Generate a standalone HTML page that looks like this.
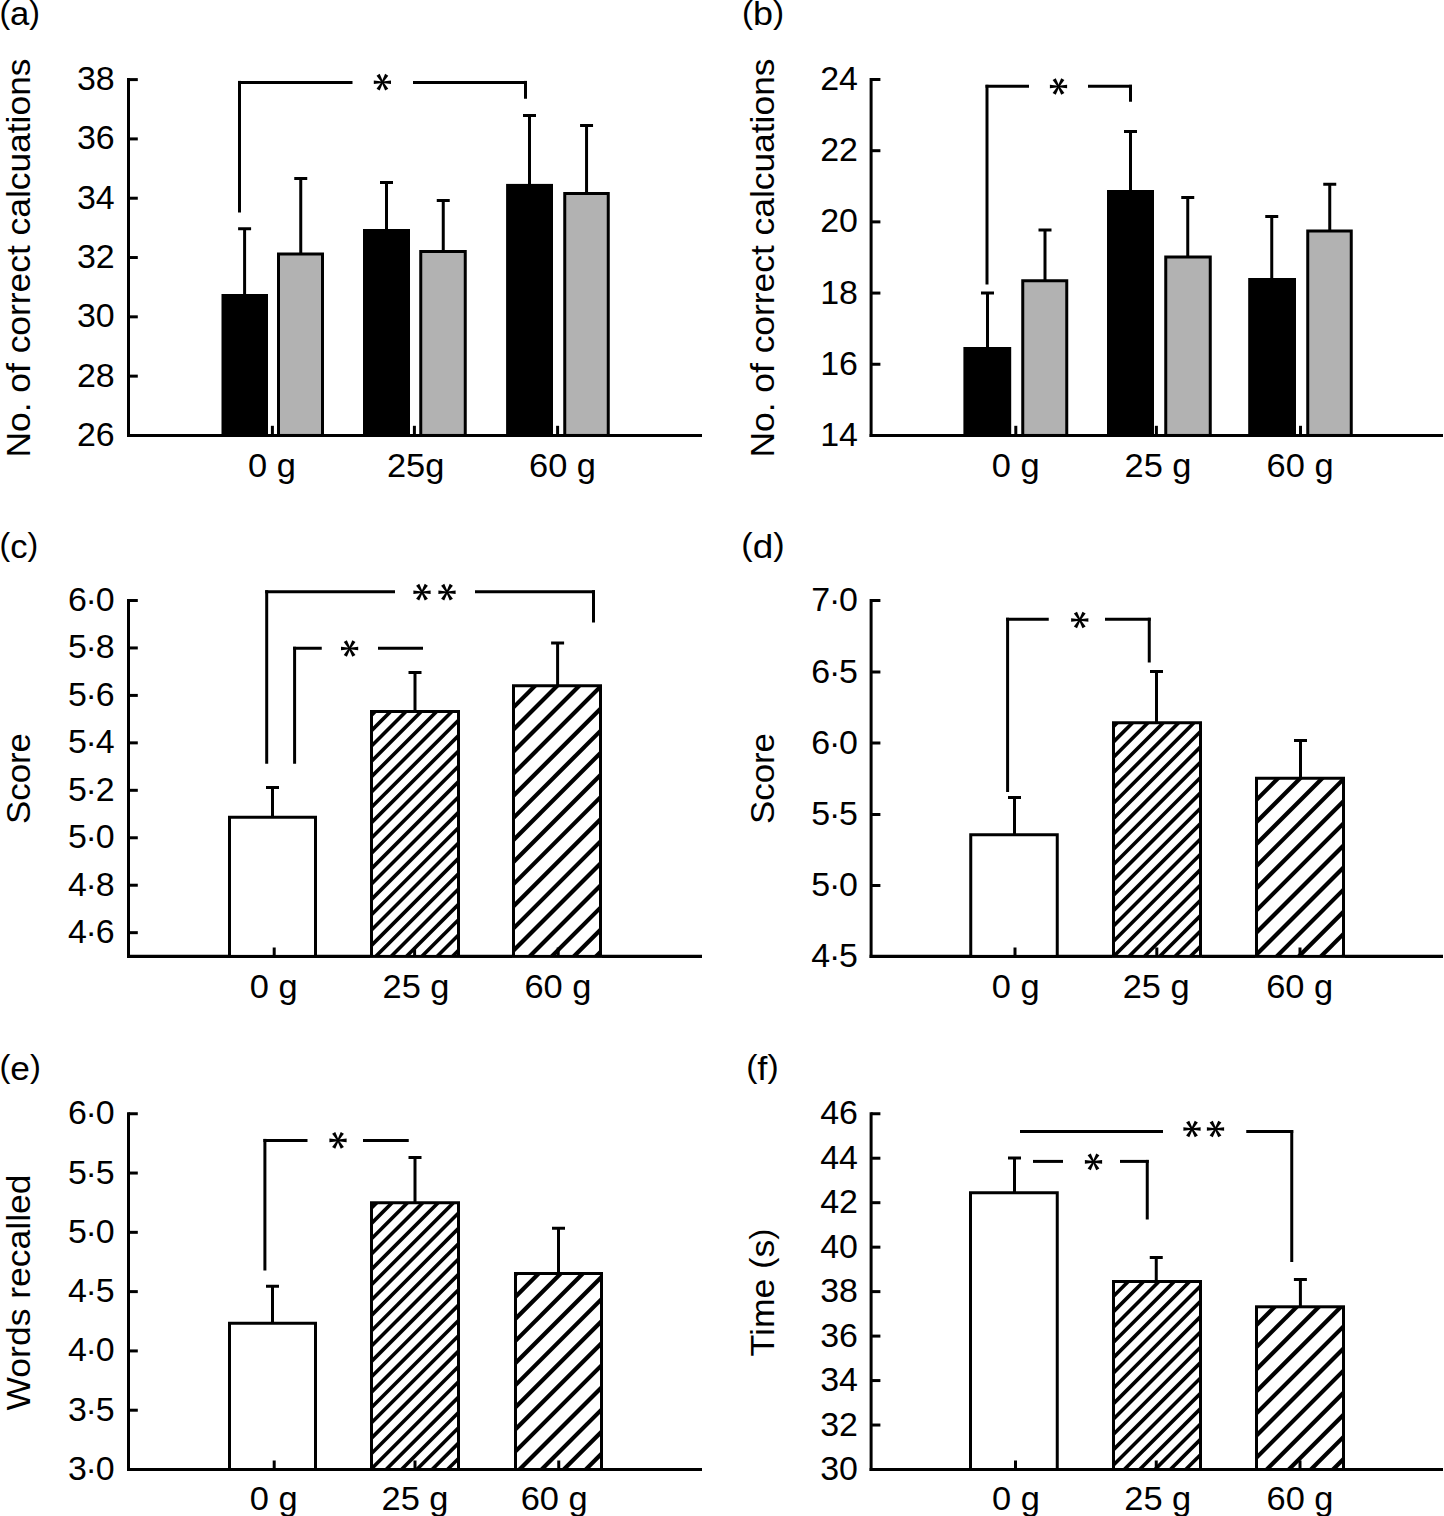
<!DOCTYPE html>
<html><head><meta charset="utf-8"><title>Figure</title>
<style>
html,body{margin:0;padding:0;background:#fff;}
body{width:1444px;height:1516px;overflow:hidden;font-family:"Liberation Sans",sans-serif;}
svg{display:block;}
</style></head><body>
<svg width="1444" height="1516" viewBox="0 0 1444 1516" font-family="'Liberation Sans', sans-serif" fill="#000">
<rect width="1444" height="1516" fill="#fff"/>
<text transform="translate(-0.60,25.20) scale(1.05,1)" font-size="33"><tspan dy="-2.2" font-size="30.5">(</tspan><tspan dy="2.2">a</tspan><tspan dy="-2.2" font-size="30.5">)</tspan></text>
<text transform="translate(30.30,258.00) rotate(-90)" font-size="34" text-anchor="middle" textLength="399" lengthAdjust="spacingAndGlyphs">No. of correct calcuations</text>
<line x1="128.50" y1="78.10" x2="128.50" y2="436.95" stroke="#000" stroke-width="3.0" stroke-linecap="butt"/>
<line x1="127.00" y1="435.45" x2="702.00" y2="435.45" stroke="#000" stroke-width="3.1" stroke-linecap="butt"/>
<line x1="128.50" y1="79.60" x2="137.80" y2="79.60" stroke="#000" stroke-width="3.0" stroke-linecap="butt"/>
<text transform="translate(114.60,90.10) scale(1.05,1)" font-size="32.3" text-anchor="end" >38</text>
<line x1="128.50" y1="138.91" x2="137.80" y2="138.91" stroke="#000" stroke-width="3.0" stroke-linecap="butt"/>
<text transform="translate(114.60,149.41) scale(1.05,1)" font-size="32.3" text-anchor="end" >36</text>
<line x1="128.50" y1="198.22" x2="137.80" y2="198.22" stroke="#000" stroke-width="3.0" stroke-linecap="butt"/>
<text transform="translate(114.60,208.72) scale(1.05,1)" font-size="32.3" text-anchor="end" >34</text>
<line x1="128.50" y1="257.53" x2="137.80" y2="257.53" stroke="#000" stroke-width="3.0" stroke-linecap="butt"/>
<text transform="translate(114.60,268.03) scale(1.05,1)" font-size="32.3" text-anchor="end" >32</text>
<line x1="128.50" y1="316.83" x2="137.80" y2="316.83" stroke="#000" stroke-width="3.0" stroke-linecap="butt"/>
<text transform="translate(114.60,327.33) scale(1.05,1)" font-size="32.3" text-anchor="end" >30</text>
<line x1="128.50" y1="376.14" x2="137.80" y2="376.14" stroke="#000" stroke-width="3.0" stroke-linecap="butt"/>
<text transform="translate(114.60,386.64) scale(1.05,1)" font-size="32.3" text-anchor="end" >28</text>
<text transform="translate(114.60,445.95) scale(1.05,1)" font-size="32.3" text-anchor="end" >26</text>
<rect x="221.5" y="294" width="46.5" height="141.45" fill="#000"/>
<rect x="363" y="229" width="47" height="206.45" fill="#000"/>
<rect x="506.1" y="183.9" width="46.89999999999998" height="251.54999999999998" fill="#000"/>
<rect x="278.50" y="254.00" width="44.00" height="181.45" fill="#b2b2b2" stroke="#000" stroke-width="3.0"/>
<rect x="420.75" y="251.50" width="44.50" height="183.95" fill="#b2b2b2" stroke="#000" stroke-width="3.0"/>
<rect x="564.75" y="193.50" width="43.50" height="241.95" fill="#b2b2b2" stroke="#000" stroke-width="3.0"/>
<line x1="244.60" y1="228.75" x2="244.60" y2="295.00" stroke="#000" stroke-width="3.0" stroke-linecap="butt"/>
<line x1="238.10" y1="228.75" x2="251.10" y2="228.75" stroke="#000" stroke-width="3.0" stroke-linecap="butt"/>
<line x1="300.75" y1="178.50" x2="300.75" y2="253.50" stroke="#000" stroke-width="3.0" stroke-linecap="butt"/>
<line x1="294.25" y1="178.50" x2="307.25" y2="178.50" stroke="#000" stroke-width="3.0" stroke-linecap="butt"/>
<line x1="386.50" y1="182.50" x2="386.50" y2="230.00" stroke="#000" stroke-width="3.0" stroke-linecap="butt"/>
<line x1="380.00" y1="182.50" x2="393.00" y2="182.50" stroke="#000" stroke-width="3.0" stroke-linecap="butt"/>
<line x1="443.25" y1="200.50" x2="443.25" y2="251.00" stroke="#000" stroke-width="3.0" stroke-linecap="butt"/>
<line x1="436.75" y1="200.50" x2="449.75" y2="200.50" stroke="#000" stroke-width="3.0" stroke-linecap="butt"/>
<line x1="529.50" y1="115.50" x2="529.50" y2="184.90" stroke="#000" stroke-width="3.0" stroke-linecap="butt"/>
<line x1="523.00" y1="115.50" x2="536.00" y2="115.50" stroke="#000" stroke-width="3.0" stroke-linecap="butt"/>
<line x1="586.55" y1="125.50" x2="586.55" y2="193.00" stroke="#000" stroke-width="3.0" stroke-linecap="butt"/>
<line x1="580.05" y1="125.50" x2="593.05" y2="125.50" stroke="#000" stroke-width="3.0" stroke-linecap="butt"/>
<line x1="272.40" y1="425.80" x2="272.40" y2="435.45" stroke="#000" stroke-width="3.0" stroke-linecap="butt"/>
<line x1="414.40" y1="425.80" x2="414.40" y2="435.45" stroke="#000" stroke-width="3.0" stroke-linecap="butt"/>
<line x1="557.60" y1="425.80" x2="557.60" y2="435.45" stroke="#000" stroke-width="3.0" stroke-linecap="butt"/>
<line x1="239.50" y1="212.50" x2="239.50" y2="80.90" stroke="#000" stroke-width="3.0" stroke-linecap="butt"/>
<line x1="238.00" y1="82.40" x2="352.50" y2="82.40" stroke="#000" stroke-width="3.0" stroke-linecap="butt"/>
<polygon points="382.40,83.00 391.00,84.00 391.00,80.40 382.40,81.40" fill="#000"/>
<polygon points="381.71,82.60 385.14,90.55 388.26,88.75 383.09,81.80" fill="#000"/>
<polygon points="381.71,81.80 376.54,88.75 379.66,90.55 383.09,82.60" fill="#000"/>
<polygon points="382.40,81.40 373.80,80.40 373.80,84.00 382.40,83.00" fill="#000"/>
<polygon points="383.09,81.80 379.66,73.85 376.54,75.65 381.71,82.60" fill="#000"/>
<polygon points="383.09,82.60 388.26,75.65 385.14,73.85 381.71,81.80" fill="#000"/>
<line x1="413.00" y1="82.40" x2="527.00" y2="82.40" stroke="#000" stroke-width="3.0" stroke-linecap="butt"/>
<line x1="525.50" y1="80.90" x2="525.50" y2="98.75" stroke="#000" stroke-width="3.0" stroke-linecap="butt"/>
<text transform="translate(272.00,476.80) scale(1.06,1)" font-size="32.5" text-anchor="middle" >0 g</text>
<text transform="translate(415.60,476.80) scale(1.06,1)" font-size="32.5" text-anchor="middle" >25g</text>
<text transform="translate(562.50,476.80) scale(1.06,1)" font-size="32.5" text-anchor="middle" >60 g</text>
<text transform="translate(742.00,25.20) scale(1.09,1)" font-size="33"><tspan dy="-2.2" font-size="30.5">(</tspan><tspan dy="2.2">b</tspan><tspan dy="-2.2" font-size="30.5">)</tspan></text>
<text transform="translate(774.40,258.00) rotate(-90)" font-size="34" text-anchor="middle" textLength="399" lengthAdjust="spacingAndGlyphs">No. of correct calcuations</text>
<line x1="871.10" y1="78.00" x2="871.10" y2="436.95" stroke="#000" stroke-width="3.0" stroke-linecap="butt"/>
<line x1="869.60" y1="435.45" x2="1443.00" y2="435.45" stroke="#000" stroke-width="3.1" stroke-linecap="butt"/>
<line x1="871.10" y1="79.50" x2="880.40" y2="79.50" stroke="#000" stroke-width="3.0" stroke-linecap="butt"/>
<text transform="translate(857.90,90.00) scale(1.05,1)" font-size="32.3" text-anchor="end" >24</text>
<line x1="871.10" y1="150.69" x2="880.40" y2="150.69" stroke="#000" stroke-width="3.0" stroke-linecap="butt"/>
<text transform="translate(857.90,161.19) scale(1.05,1)" font-size="32.3" text-anchor="end" >22</text>
<line x1="871.10" y1="221.88" x2="880.40" y2="221.88" stroke="#000" stroke-width="3.0" stroke-linecap="butt"/>
<text transform="translate(857.90,232.38) scale(1.05,1)" font-size="32.3" text-anchor="end" >20</text>
<line x1="871.10" y1="293.07" x2="880.40" y2="293.07" stroke="#000" stroke-width="3.0" stroke-linecap="butt"/>
<text transform="translate(857.90,303.57) scale(1.05,1)" font-size="32.3" text-anchor="end" >18</text>
<line x1="871.10" y1="364.26" x2="880.40" y2="364.26" stroke="#000" stroke-width="3.0" stroke-linecap="butt"/>
<text transform="translate(857.90,374.76) scale(1.05,1)" font-size="32.3" text-anchor="end" >16</text>
<text transform="translate(857.90,445.95) scale(1.05,1)" font-size="32.3" text-anchor="end" >14</text>
<rect x="963.4" y="347" width="47.80000000000007" height="88.44999999999999" fill="#000"/>
<rect x="1107" y="190" width="47" height="245.45" fill="#000"/>
<rect x="1248.2" y="278" width="47.799999999999955" height="157.45" fill="#000"/>
<rect x="1022.75" y="280.75" width="44.00" height="154.70" fill="#b2b2b2" stroke="#000" stroke-width="3.0"/>
<rect x="1165.75" y="257.00" width="44.50" height="178.45" fill="#b2b2b2" stroke="#000" stroke-width="3.0"/>
<rect x="1307.75" y="231.00" width="43.50" height="204.45" fill="#b2b2b2" stroke="#000" stroke-width="3.0"/>
<line x1="987.50" y1="293.00" x2="987.50" y2="348.00" stroke="#000" stroke-width="3.0" stroke-linecap="butt"/>
<line x1="981.00" y1="293.00" x2="994.00" y2="293.00" stroke="#000" stroke-width="3.0" stroke-linecap="butt"/>
<line x1="1045.00" y1="230.00" x2="1045.00" y2="280.25" stroke="#000" stroke-width="3.0" stroke-linecap="butt"/>
<line x1="1038.50" y1="230.00" x2="1051.50" y2="230.00" stroke="#000" stroke-width="3.0" stroke-linecap="butt"/>
<line x1="1130.50" y1="131.50" x2="1130.50" y2="191.00" stroke="#000" stroke-width="3.0" stroke-linecap="butt"/>
<line x1="1124.00" y1="131.50" x2="1137.00" y2="131.50" stroke="#000" stroke-width="3.0" stroke-linecap="butt"/>
<line x1="1187.75" y1="197.50" x2="1187.75" y2="256.50" stroke="#000" stroke-width="3.0" stroke-linecap="butt"/>
<line x1="1181.25" y1="197.50" x2="1194.25" y2="197.50" stroke="#000" stroke-width="3.0" stroke-linecap="butt"/>
<line x1="1271.75" y1="216.50" x2="1271.75" y2="279.00" stroke="#000" stroke-width="3.0" stroke-linecap="butt"/>
<line x1="1265.25" y1="216.50" x2="1278.25" y2="216.50" stroke="#000" stroke-width="3.0" stroke-linecap="butt"/>
<line x1="1329.75" y1="184.25" x2="1329.75" y2="230.50" stroke="#000" stroke-width="3.0" stroke-linecap="butt"/>
<line x1="1323.25" y1="184.25" x2="1336.25" y2="184.25" stroke="#000" stroke-width="3.0" stroke-linecap="butt"/>
<line x1="1015.80" y1="425.80" x2="1015.80" y2="435.45" stroke="#000" stroke-width="3.0" stroke-linecap="butt"/>
<line x1="1156.40" y1="425.80" x2="1156.40" y2="435.45" stroke="#000" stroke-width="3.0" stroke-linecap="butt"/>
<line x1="1300.50" y1="425.80" x2="1300.50" y2="435.45" stroke="#000" stroke-width="3.0" stroke-linecap="butt"/>
<line x1="987.00" y1="284.50" x2="987.00" y2="84.80" stroke="#000" stroke-width="3.0" stroke-linecap="butt"/>
<line x1="985.50" y1="86.30" x2="1029.00" y2="86.30" stroke="#000" stroke-width="3.0" stroke-linecap="butt"/>
<polygon points="1058.50,87.30 1067.10,88.30 1067.10,84.70 1058.50,85.70" fill="#000"/>
<polygon points="1057.81,86.90 1061.24,94.85 1064.36,93.05 1059.19,86.10" fill="#000"/>
<polygon points="1057.81,86.10 1052.64,93.05 1055.76,94.85 1059.19,86.90" fill="#000"/>
<polygon points="1058.50,85.70 1049.90,84.70 1049.90,88.30 1058.50,87.30" fill="#000"/>
<polygon points="1059.19,86.10 1055.76,78.15 1052.64,79.95 1057.81,86.90" fill="#000"/>
<polygon points="1059.19,86.90 1064.36,79.95 1061.24,78.15 1057.81,86.10" fill="#000"/>
<line x1="1088.00" y1="86.30" x2="1132.00" y2="86.30" stroke="#000" stroke-width="3.0" stroke-linecap="butt"/>
<line x1="1130.50" y1="84.80" x2="1130.50" y2="101.75" stroke="#000" stroke-width="3.0" stroke-linecap="butt"/>
<text transform="translate(1015.80,476.80) scale(1.06,1)" font-size="32.5" text-anchor="middle" >0 g</text>
<text transform="translate(1158.00,476.80) scale(1.06,1)" font-size="32.5" text-anchor="middle" >25 g</text>
<text transform="translate(1300.10,476.80) scale(1.06,1)" font-size="32.5" text-anchor="middle" >60 g</text>
<text transform="translate(-0.40,557.50) scale(1.05,1)" font-size="33"><tspan dy="-2.2" font-size="30.5">(</tspan><tspan dy="2.2">c</tspan><tspan dy="-2.2" font-size="30.5">)</tspan></text>
<text transform="translate(30.30,778.50) rotate(-90)" font-size="34" text-anchor="middle" textLength="91" lengthAdjust="spacingAndGlyphs">Score</text>
<line x1="128.50" y1="599.00" x2="128.50" y2="957.90" stroke="#000" stroke-width="3.0" stroke-linecap="butt"/>
<line x1="127.00" y1="956.40" x2="702.00" y2="956.40" stroke="#000" stroke-width="3.1" stroke-linecap="butt"/>
<line x1="128.50" y1="600.50" x2="137.80" y2="600.50" stroke="#000" stroke-width="3.0" stroke-linecap="butt"/>
<text transform="translate(114.60,611.00) scale(1.05,1)" font-size="32.3" text-anchor="end" >6<tspan dx="-1.1">·</tspan><tspan dx="-1.1">0</tspan></text>
<line x1="128.50" y1="647.95" x2="137.80" y2="647.95" stroke="#000" stroke-width="3.0" stroke-linecap="butt"/>
<text transform="translate(114.60,658.45) scale(1.05,1)" font-size="32.3" text-anchor="end" >5<tspan dx="-1.1">·</tspan><tspan dx="-1.1">8</tspan></text>
<line x1="128.50" y1="695.41" x2="137.80" y2="695.41" stroke="#000" stroke-width="3.0" stroke-linecap="butt"/>
<text transform="translate(114.60,705.91) scale(1.05,1)" font-size="32.3" text-anchor="end" >5<tspan dx="-1.1">·</tspan><tspan dx="-1.1">6</tspan></text>
<line x1="128.50" y1="742.86" x2="137.80" y2="742.86" stroke="#000" stroke-width="3.0" stroke-linecap="butt"/>
<text transform="translate(114.60,753.36) scale(1.05,1)" font-size="32.3" text-anchor="end" >5<tspan dx="-1.1">·</tspan><tspan dx="-1.1">4</tspan></text>
<line x1="128.50" y1="790.31" x2="137.80" y2="790.31" stroke="#000" stroke-width="3.0" stroke-linecap="butt"/>
<text transform="translate(114.60,800.81) scale(1.05,1)" font-size="32.3" text-anchor="end" >5<tspan dx="-1.1">·</tspan><tspan dx="-1.1">2</tspan></text>
<line x1="128.50" y1="837.77" x2="137.80" y2="837.77" stroke="#000" stroke-width="3.0" stroke-linecap="butt"/>
<text transform="translate(114.60,848.27) scale(1.05,1)" font-size="32.3" text-anchor="end" >5<tspan dx="-1.1">·</tspan><tspan dx="-1.1">0</tspan></text>
<line x1="128.50" y1="885.22" x2="137.80" y2="885.22" stroke="#000" stroke-width="3.0" stroke-linecap="butt"/>
<text transform="translate(114.60,895.72) scale(1.05,1)" font-size="32.3" text-anchor="end" >4<tspan dx="-1.1">·</tspan><tspan dx="-1.1">8</tspan></text>
<line x1="128.50" y1="932.67" x2="137.80" y2="932.67" stroke="#000" stroke-width="3.0" stroke-linecap="butt"/>
<text transform="translate(114.60,943.17) scale(1.05,1)" font-size="32.3" text-anchor="end" >4<tspan dx="-1.1">·</tspan><tspan dx="-1.1">6</tspan></text>
<rect x="229.50" y="817.25" width="86.00" height="139.15" fill="#fff" stroke="#000" stroke-width="3.0"/>
<clipPath id="c1"><rect x="371.00" y="711.00" width="88.00" height="245.90"/></clipPath>
<rect x="370.00" y="710.00" width="90.00" height="247.90" fill="#fff"/>
<g clip-path="url(#c1)" stroke="#000" stroke-width="3.6">
<line x1="365.00" y1="706.42" x2="465.00" y2="606.42"/>
<line x1="365.00" y1="721.76" x2="465.00" y2="621.76"/>
<line x1="365.00" y1="737.10" x2="465.00" y2="637.10"/>
<line x1="365.00" y1="752.44" x2="465.00" y2="652.44"/>
<line x1="365.00" y1="767.78" x2="465.00" y2="667.78"/>
<line x1="365.00" y1="783.12" x2="465.00" y2="683.12"/>
<line x1="365.00" y1="798.46" x2="465.00" y2="698.46"/>
<line x1="365.00" y1="813.80" x2="465.00" y2="713.80"/>
<line x1="365.00" y1="829.14" x2="465.00" y2="729.14"/>
<line x1="365.00" y1="844.48" x2="465.00" y2="744.48"/>
<line x1="365.00" y1="859.82" x2="465.00" y2="759.82"/>
<line x1="365.00" y1="875.16" x2="465.00" y2="775.16"/>
<line x1="365.00" y1="890.50" x2="465.00" y2="790.50"/>
<line x1="365.00" y1="905.84" x2="465.00" y2="805.84"/>
<line x1="365.00" y1="921.18" x2="465.00" y2="821.18"/>
<line x1="365.00" y1="936.52" x2="465.00" y2="836.52"/>
<line x1="365.00" y1="951.86" x2="465.00" y2="851.86"/>
<line x1="365.00" y1="967.20" x2="465.00" y2="867.20"/>
<line x1="365.00" y1="982.54" x2="465.00" y2="882.54"/>
<line x1="365.00" y1="997.88" x2="465.00" y2="897.88"/>
<line x1="365.00" y1="1013.22" x2="465.00" y2="913.22"/>
<line x1="365.00" y1="1028.56" x2="465.00" y2="928.56"/>
<line x1="365.00" y1="1043.90" x2="465.00" y2="943.90"/>
<line x1="365.00" y1="1059.24" x2="465.00" y2="959.24"/>
</g>
<rect x="371.50" y="711.50" width="87.00" height="244.90" fill="none" stroke="#000" stroke-width="3.0"/>
<clipPath id="c2"><rect x="513.00" y="685.25" width="88.00" height="271.65"/></clipPath>
<rect x="512.00" y="684.25" width="90.00" height="273.65" fill="#fff"/>
<g clip-path="url(#c2)" stroke="#000" stroke-width="4.2">
<line x1="507.00" y1="669.65" x2="607.00" y2="569.65"/>
<line x1="507.00" y1="691.75" x2="607.00" y2="591.75"/>
<line x1="507.00" y1="713.85" x2="607.00" y2="613.85"/>
<line x1="507.00" y1="735.95" x2="607.00" y2="635.95"/>
<line x1="507.00" y1="758.05" x2="607.00" y2="658.05"/>
<line x1="507.00" y1="780.15" x2="607.00" y2="680.15"/>
<line x1="507.00" y1="802.25" x2="607.00" y2="702.25"/>
<line x1="507.00" y1="824.35" x2="607.00" y2="724.35"/>
<line x1="507.00" y1="846.45" x2="607.00" y2="746.45"/>
<line x1="507.00" y1="868.55" x2="607.00" y2="768.55"/>
<line x1="507.00" y1="890.65" x2="607.00" y2="790.65"/>
<line x1="507.00" y1="912.75" x2="607.00" y2="812.75"/>
<line x1="507.00" y1="934.85" x2="607.00" y2="834.85"/>
<line x1="507.00" y1="956.95" x2="607.00" y2="856.95"/>
<line x1="507.00" y1="979.05" x2="607.00" y2="879.05"/>
<line x1="507.00" y1="1001.15" x2="607.00" y2="901.15"/>
<line x1="507.00" y1="1023.25" x2="607.00" y2="923.25"/>
<line x1="507.00" y1="1045.35" x2="607.00" y2="945.35"/>
<line x1="507.00" y1="1067.45" x2="607.00" y2="967.45"/>
</g>
<rect x="513.50" y="685.75" width="87.00" height="270.65" fill="none" stroke="#000" stroke-width="3.0"/>
<line x1="272.50" y1="787.50" x2="272.50" y2="816.75" stroke="#000" stroke-width="3.0" stroke-linecap="butt"/>
<line x1="266.00" y1="787.50" x2="279.00" y2="787.50" stroke="#000" stroke-width="3.0" stroke-linecap="butt"/>
<line x1="415.00" y1="672.50" x2="415.00" y2="711.00" stroke="#000" stroke-width="3.0" stroke-linecap="butt"/>
<line x1="408.50" y1="672.50" x2="421.50" y2="672.50" stroke="#000" stroke-width="3.0" stroke-linecap="butt"/>
<line x1="557.60" y1="643.00" x2="557.60" y2="685.25" stroke="#000" stroke-width="3.0" stroke-linecap="butt"/>
<line x1="551.10" y1="643.00" x2="564.10" y2="643.00" stroke="#000" stroke-width="3.0" stroke-linecap="butt"/>
<line x1="274.20" y1="947.50" x2="274.20" y2="956.40" stroke="#000" stroke-width="3.0" stroke-linecap="butt"/>
<line x1="414.60" y1="947.50" x2="414.60" y2="956.40" stroke="#000" stroke-width="3.0" stroke-linecap="butt"/>
<line x1="558.20" y1="947.50" x2="558.20" y2="956.40" stroke="#000" stroke-width="3.0" stroke-linecap="butt"/>
<line x1="266.70" y1="763.75" x2="266.70" y2="590.20" stroke="#000" stroke-width="3.0" stroke-linecap="butt"/>
<line x1="265.20" y1="591.70" x2="395.00" y2="591.70" stroke="#000" stroke-width="3.0" stroke-linecap="butt"/>
<polygon points="422.00,593.00 430.60,594.00 430.60,590.40 422.00,591.40" fill="#000"/>
<polygon points="421.31,592.60 424.74,600.55 427.86,598.75 422.69,591.80" fill="#000"/>
<polygon points="421.31,591.80 416.14,598.75 419.26,600.55 422.69,592.60" fill="#000"/>
<polygon points="422.00,591.40 413.40,590.40 413.40,594.00 422.00,593.00" fill="#000"/>
<polygon points="422.69,591.80 419.26,583.85 416.14,585.65 421.31,592.60" fill="#000"/>
<polygon points="422.69,592.60 427.86,585.65 424.74,583.85 421.31,591.80" fill="#000"/>
<polygon points="447.00,593.00 455.60,594.00 455.60,590.40 447.00,591.40" fill="#000"/>
<polygon points="446.31,592.60 449.74,600.55 452.86,598.75 447.69,591.80" fill="#000"/>
<polygon points="446.31,591.80 441.14,598.75 444.26,600.55 447.69,592.60" fill="#000"/>
<polygon points="447.00,591.40 438.40,590.40 438.40,594.00 447.00,593.00" fill="#000"/>
<polygon points="447.69,591.80 444.26,583.85 441.14,585.65 446.31,592.60" fill="#000"/>
<polygon points="447.69,592.60 452.86,585.65 449.74,583.85 446.31,591.80" fill="#000"/>
<line x1="475.00" y1="591.70" x2="595.00" y2="591.70" stroke="#000" stroke-width="3.0" stroke-linecap="butt"/>
<line x1="593.50" y1="590.20" x2="593.50" y2="622.50" stroke="#000" stroke-width="3.0" stroke-linecap="butt"/>
<line x1="294.60" y1="763.75" x2="294.60" y2="646.75" stroke="#000" stroke-width="3.0" stroke-linecap="butt"/>
<line x1="293.10" y1="648.25" x2="321.75" y2="648.25" stroke="#000" stroke-width="3.0" stroke-linecap="butt"/>
<polygon points="349.60,649.30 358.20,650.30 358.20,646.70 349.60,647.70" fill="#000"/>
<polygon points="348.91,648.90 352.34,656.85 355.46,655.05 350.29,648.10" fill="#000"/>
<polygon points="348.91,648.10 343.74,655.05 346.86,656.85 350.29,648.90" fill="#000"/>
<polygon points="349.60,647.70 341.00,646.70 341.00,650.30 349.60,649.30" fill="#000"/>
<polygon points="350.29,648.10 346.86,640.15 343.74,641.95 348.91,648.90" fill="#000"/>
<polygon points="350.29,648.90 355.46,641.95 352.34,640.15 348.91,648.10" fill="#000"/>
<line x1="378.00" y1="648.25" x2="423.00" y2="648.25" stroke="#000" stroke-width="3.0" stroke-linecap="butt"/>
<text transform="translate(273.75,997.60) scale(1.06,1)" font-size="32.5" text-anchor="middle" >0 g</text>
<text transform="translate(416.00,997.60) scale(1.06,1)" font-size="32.5" text-anchor="middle" >25 g</text>
<text transform="translate(557.90,997.60) scale(1.06,1)" font-size="32.5" text-anchor="middle" >60 g</text>
<text transform="translate(741.30,557.50) scale(1.12,1)" font-size="33"><tspan dy="-2.2" font-size="30.5">(</tspan><tspan dy="2.2">d</tspan><tspan dy="-2.2" font-size="30.5">)</tspan></text>
<text transform="translate(774.40,778.50) rotate(-90)" font-size="34" text-anchor="middle" textLength="91" lengthAdjust="spacingAndGlyphs">Score</text>
<line x1="871.10" y1="599.00" x2="871.10" y2="957.90" stroke="#000" stroke-width="3.0" stroke-linecap="butt"/>
<line x1="869.60" y1="956.40" x2="1443.00" y2="956.40" stroke="#000" stroke-width="3.1" stroke-linecap="butt"/>
<line x1="871.10" y1="600.50" x2="880.40" y2="600.50" stroke="#000" stroke-width="3.0" stroke-linecap="butt"/>
<text transform="translate(857.90,611.00) scale(1.05,1)" font-size="32.3" text-anchor="end" >7<tspan dx="-1.1">·</tspan><tspan dx="-1.1">0</tspan></text>
<line x1="871.10" y1="672.00" x2="880.40" y2="672.00" stroke="#000" stroke-width="3.0" stroke-linecap="butt"/>
<text transform="translate(857.90,682.50) scale(1.05,1)" font-size="32.3" text-anchor="end" >6<tspan dx="-1.1">·</tspan><tspan dx="-1.1">5</tspan></text>
<line x1="871.10" y1="743.00" x2="880.40" y2="743.00" stroke="#000" stroke-width="3.0" stroke-linecap="butt"/>
<text transform="translate(857.90,753.50) scale(1.05,1)" font-size="32.3" text-anchor="end" >6<tspan dx="-1.1">·</tspan><tspan dx="-1.1">0</tspan></text>
<line x1="871.10" y1="814.50" x2="880.40" y2="814.50" stroke="#000" stroke-width="3.0" stroke-linecap="butt"/>
<text transform="translate(857.90,825.00) scale(1.05,1)" font-size="32.3" text-anchor="end" >5<tspan dx="-1.1">·</tspan><tspan dx="-1.1">5</tspan></text>
<line x1="871.10" y1="885.50" x2="880.40" y2="885.50" stroke="#000" stroke-width="3.0" stroke-linecap="butt"/>
<text transform="translate(857.90,896.00) scale(1.05,1)" font-size="32.3" text-anchor="end" >5<tspan dx="-1.1">·</tspan><tspan dx="-1.1">0</tspan></text>
<text transform="translate(857.90,966.90) scale(1.05,1)" font-size="32.3" text-anchor="end" >4<tspan dx="-1.1">·</tspan><tspan dx="-1.1">5</tspan></text>
<rect x="970.75" y="834.75" width="86.50" height="121.65" fill="#fff" stroke="#000" stroke-width="3.0"/>
<clipPath id="c3"><rect x="1113.00" y="722.25" width="88.00" height="234.65"/></clipPath>
<rect x="1112.00" y="721.25" width="90.00" height="236.65" fill="#fff"/>
<g clip-path="url(#c3)" stroke="#000" stroke-width="3.6">
<line x1="1107.00" y1="717.67" x2="1207.00" y2="617.67"/>
<line x1="1107.00" y1="733.01" x2="1207.00" y2="633.01"/>
<line x1="1107.00" y1="748.35" x2="1207.00" y2="648.35"/>
<line x1="1107.00" y1="763.69" x2="1207.00" y2="663.69"/>
<line x1="1107.00" y1="779.03" x2="1207.00" y2="679.03"/>
<line x1="1107.00" y1="794.37" x2="1207.00" y2="694.37"/>
<line x1="1107.00" y1="809.71" x2="1207.00" y2="709.71"/>
<line x1="1107.00" y1="825.05" x2="1207.00" y2="725.05"/>
<line x1="1107.00" y1="840.39" x2="1207.00" y2="740.39"/>
<line x1="1107.00" y1="855.73" x2="1207.00" y2="755.73"/>
<line x1="1107.00" y1="871.07" x2="1207.00" y2="771.07"/>
<line x1="1107.00" y1="886.41" x2="1207.00" y2="786.41"/>
<line x1="1107.00" y1="901.75" x2="1207.00" y2="801.75"/>
<line x1="1107.00" y1="917.09" x2="1207.00" y2="817.09"/>
<line x1="1107.00" y1="932.43" x2="1207.00" y2="832.43"/>
<line x1="1107.00" y1="947.77" x2="1207.00" y2="847.77"/>
<line x1="1107.00" y1="963.11" x2="1207.00" y2="863.11"/>
<line x1="1107.00" y1="978.45" x2="1207.00" y2="878.45"/>
<line x1="1107.00" y1="993.79" x2="1207.00" y2="893.79"/>
<line x1="1107.00" y1="1009.13" x2="1207.00" y2="909.13"/>
<line x1="1107.00" y1="1024.47" x2="1207.00" y2="924.47"/>
<line x1="1107.00" y1="1039.81" x2="1207.00" y2="939.81"/>
<line x1="1107.00" y1="1055.15" x2="1207.00" y2="955.15"/>
</g>
<rect x="1113.50" y="722.75" width="87.00" height="233.65" fill="none" stroke="#000" stroke-width="3.0"/>
<clipPath id="c4"><rect x="1256.00" y="777.75" width="88.00" height="179.15"/></clipPath>
<rect x="1255.00" y="776.75" width="90.00" height="181.15" fill="#fff"/>
<g clip-path="url(#c4)" stroke="#000" stroke-width="4.2">
<line x1="1250.00" y1="762.15" x2="1350.00" y2="662.15"/>
<line x1="1250.00" y1="784.25" x2="1350.00" y2="684.25"/>
<line x1="1250.00" y1="806.35" x2="1350.00" y2="706.35"/>
<line x1="1250.00" y1="828.45" x2="1350.00" y2="728.45"/>
<line x1="1250.00" y1="850.55" x2="1350.00" y2="750.55"/>
<line x1="1250.00" y1="872.65" x2="1350.00" y2="772.65"/>
<line x1="1250.00" y1="894.75" x2="1350.00" y2="794.75"/>
<line x1="1250.00" y1="916.85" x2="1350.00" y2="816.85"/>
<line x1="1250.00" y1="938.95" x2="1350.00" y2="838.95"/>
<line x1="1250.00" y1="961.05" x2="1350.00" y2="861.05"/>
<line x1="1250.00" y1="983.15" x2="1350.00" y2="883.15"/>
<line x1="1250.00" y1="1005.25" x2="1350.00" y2="905.25"/>
<line x1="1250.00" y1="1027.35" x2="1350.00" y2="927.35"/>
<line x1="1250.00" y1="1049.45" x2="1350.00" y2="949.45"/>
<line x1="1250.00" y1="1071.55" x2="1350.00" y2="971.55"/>
</g>
<rect x="1256.50" y="778.25" width="87.00" height="178.15" fill="none" stroke="#000" stroke-width="3.0"/>
<line x1="1014.50" y1="797.50" x2="1014.50" y2="834.25" stroke="#000" stroke-width="3.0" stroke-linecap="butt"/>
<line x1="1008.00" y1="797.50" x2="1021.00" y2="797.50" stroke="#000" stroke-width="3.0" stroke-linecap="butt"/>
<line x1="1156.50" y1="671.50" x2="1156.50" y2="722.25" stroke="#000" stroke-width="3.0" stroke-linecap="butt"/>
<line x1="1150.00" y1="671.50" x2="1163.00" y2="671.50" stroke="#000" stroke-width="3.0" stroke-linecap="butt"/>
<line x1="1300.50" y1="740.50" x2="1300.50" y2="777.75" stroke="#000" stroke-width="3.0" stroke-linecap="butt"/>
<line x1="1294.00" y1="740.50" x2="1307.00" y2="740.50" stroke="#000" stroke-width="3.0" stroke-linecap="butt"/>
<line x1="1015.00" y1="947.50" x2="1015.00" y2="956.40" stroke="#000" stroke-width="3.0" stroke-linecap="butt"/>
<line x1="1156.80" y1="947.50" x2="1156.80" y2="956.40" stroke="#000" stroke-width="3.0" stroke-linecap="butt"/>
<line x1="1300.00" y1="947.50" x2="1300.00" y2="956.40" stroke="#000" stroke-width="3.0" stroke-linecap="butt"/>
<line x1="1007.60" y1="792.00" x2="1007.60" y2="617.75" stroke="#000" stroke-width="3.0" stroke-linecap="butt"/>
<line x1="1006.10" y1="619.25" x2="1048.75" y2="619.25" stroke="#000" stroke-width="3.0" stroke-linecap="butt"/>
<polygon points="1079.75,620.80 1088.35,621.80 1088.35,618.20 1079.75,619.20" fill="#000"/>
<polygon points="1079.06,620.40 1082.49,628.35 1085.61,626.55 1080.44,619.60" fill="#000"/>
<polygon points="1079.06,619.60 1073.89,626.55 1077.01,628.35 1080.44,620.40" fill="#000"/>
<polygon points="1079.75,619.20 1071.15,618.20 1071.15,621.80 1079.75,620.80" fill="#000"/>
<polygon points="1080.44,619.60 1077.01,611.65 1073.89,613.45 1079.06,620.40" fill="#000"/>
<polygon points="1080.44,620.40 1085.61,613.45 1082.49,611.65 1079.06,619.60" fill="#000"/>
<line x1="1105.00" y1="619.25" x2="1150.75" y2="619.25" stroke="#000" stroke-width="3.0" stroke-linecap="butt"/>
<line x1="1149.25" y1="617.75" x2="1149.25" y2="662.50" stroke="#000" stroke-width="3.0" stroke-linecap="butt"/>
<text transform="translate(1015.80,997.60) scale(1.06,1)" font-size="32.5" text-anchor="middle" >0 g</text>
<text transform="translate(1156.20,997.60) scale(1.06,1)" font-size="32.5" text-anchor="middle" >25 g</text>
<text transform="translate(1299.70,997.60) scale(1.06,1)" font-size="32.5" text-anchor="middle" >60 g</text>
<text transform="translate(-0.60,1079.50) scale(1.07,1)" font-size="33"><tspan dy="-2.2" font-size="30.5">(</tspan><tspan dy="2.2">e</tspan><tspan dy="-2.2" font-size="30.5">)</tspan></text>
<text transform="translate(30.30,1292.50) rotate(-90)" font-size="34" text-anchor="middle" textLength="236" lengthAdjust="spacingAndGlyphs">Words recalled</text>
<line x1="128.50" y1="1112.25" x2="128.50" y2="1471.00" stroke="#000" stroke-width="3.0" stroke-linecap="butt"/>
<line x1="127.00" y1="1469.50" x2="702.00" y2="1469.50" stroke="#000" stroke-width="3.1" stroke-linecap="butt"/>
<line x1="128.50" y1="1113.75" x2="137.80" y2="1113.75" stroke="#000" stroke-width="3.0" stroke-linecap="butt"/>
<text transform="translate(114.60,1124.25) scale(1.05,1)" font-size="32.3" text-anchor="end" >6<tspan dx="-1.1">·</tspan><tspan dx="-1.1">0</tspan></text>
<line x1="128.50" y1="1173.04" x2="137.80" y2="1173.04" stroke="#000" stroke-width="3.0" stroke-linecap="butt"/>
<text transform="translate(114.60,1183.54) scale(1.05,1)" font-size="32.3" text-anchor="end" >5<tspan dx="-1.1">·</tspan><tspan dx="-1.1">5</tspan></text>
<line x1="128.50" y1="1232.33" x2="137.80" y2="1232.33" stroke="#000" stroke-width="3.0" stroke-linecap="butt"/>
<text transform="translate(114.60,1242.83) scale(1.05,1)" font-size="32.3" text-anchor="end" >5<tspan dx="-1.1">·</tspan><tspan dx="-1.1">0</tspan></text>
<line x1="128.50" y1="1291.62" x2="137.80" y2="1291.62" stroke="#000" stroke-width="3.0" stroke-linecap="butt"/>
<text transform="translate(114.60,1302.12) scale(1.05,1)" font-size="32.3" text-anchor="end" >4<tspan dx="-1.1">·</tspan><tspan dx="-1.1">5</tspan></text>
<line x1="128.50" y1="1350.92" x2="137.80" y2="1350.92" stroke="#000" stroke-width="3.0" stroke-linecap="butt"/>
<text transform="translate(114.60,1361.42) scale(1.05,1)" font-size="32.3" text-anchor="end" >4<tspan dx="-1.1">·</tspan><tspan dx="-1.1">0</tspan></text>
<line x1="128.50" y1="1410.21" x2="137.80" y2="1410.21" stroke="#000" stroke-width="3.0" stroke-linecap="butt"/>
<text transform="translate(114.60,1420.71) scale(1.05,1)" font-size="32.3" text-anchor="end" >3<tspan dx="-1.1">·</tspan><tspan dx="-1.1">5</tspan></text>
<text transform="translate(114.60,1480.00) scale(1.05,1)" font-size="32.3" text-anchor="end" >3<tspan dx="-1.1">·</tspan><tspan dx="-1.1">0</tspan></text>
<rect x="229.50" y="1323.25" width="86.00" height="146.25" fill="#fff" stroke="#000" stroke-width="3.0"/>
<clipPath id="c5"><rect x="371.00" y="1202.25" width="88.00" height="267.75"/></clipPath>
<rect x="370.00" y="1201.25" width="90.00" height="269.75" fill="#fff"/>
<g clip-path="url(#c5)" stroke="#000" stroke-width="3.6">
<line x1="365.00" y1="1199.17" x2="465.00" y2="1099.17"/>
<line x1="365.00" y1="1214.51" x2="465.00" y2="1114.51"/>
<line x1="365.00" y1="1229.85" x2="465.00" y2="1129.85"/>
<line x1="365.00" y1="1245.19" x2="465.00" y2="1145.19"/>
<line x1="365.00" y1="1260.53" x2="465.00" y2="1160.53"/>
<line x1="365.00" y1="1275.87" x2="465.00" y2="1175.87"/>
<line x1="365.00" y1="1291.21" x2="465.00" y2="1191.21"/>
<line x1="365.00" y1="1306.55" x2="465.00" y2="1206.55"/>
<line x1="365.00" y1="1321.89" x2="465.00" y2="1221.89"/>
<line x1="365.00" y1="1337.23" x2="465.00" y2="1237.23"/>
<line x1="365.00" y1="1352.57" x2="465.00" y2="1252.57"/>
<line x1="365.00" y1="1367.91" x2="465.00" y2="1267.91"/>
<line x1="365.00" y1="1383.25" x2="465.00" y2="1283.25"/>
<line x1="365.00" y1="1398.59" x2="465.00" y2="1298.59"/>
<line x1="365.00" y1="1413.93" x2="465.00" y2="1313.93"/>
<line x1="365.00" y1="1429.27" x2="465.00" y2="1329.27"/>
<line x1="365.00" y1="1444.61" x2="465.00" y2="1344.61"/>
<line x1="365.00" y1="1459.95" x2="465.00" y2="1359.95"/>
<line x1="365.00" y1="1475.29" x2="465.00" y2="1375.29"/>
<line x1="365.00" y1="1490.63" x2="465.00" y2="1390.63"/>
<line x1="365.00" y1="1505.97" x2="465.00" y2="1405.97"/>
<line x1="365.00" y1="1521.31" x2="465.00" y2="1421.31"/>
<line x1="365.00" y1="1536.65" x2="465.00" y2="1436.65"/>
<line x1="365.00" y1="1551.99" x2="465.00" y2="1451.99"/>
<line x1="365.00" y1="1567.33" x2="465.00" y2="1467.33"/>
</g>
<rect x="371.50" y="1202.75" width="87.00" height="266.75" fill="none" stroke="#000" stroke-width="3.0"/>
<clipPath id="c6"><rect x="515.00" y="1273.00" width="87.00" height="197.00"/></clipPath>
<rect x="514.00" y="1272.00" width="89.00" height="199.00" fill="#fff"/>
<g clip-path="url(#c6)" stroke="#000" stroke-width="4.2">
<line x1="509.00" y1="1259.00" x2="608.00" y2="1160.00"/>
<line x1="509.00" y1="1281.10" x2="608.00" y2="1182.10"/>
<line x1="509.00" y1="1303.20" x2="608.00" y2="1204.20"/>
<line x1="509.00" y1="1325.30" x2="608.00" y2="1226.30"/>
<line x1="509.00" y1="1347.40" x2="608.00" y2="1248.40"/>
<line x1="509.00" y1="1369.50" x2="608.00" y2="1270.50"/>
<line x1="509.00" y1="1391.60" x2="608.00" y2="1292.60"/>
<line x1="509.00" y1="1413.70" x2="608.00" y2="1314.70"/>
<line x1="509.00" y1="1435.80" x2="608.00" y2="1336.80"/>
<line x1="509.00" y1="1457.90" x2="608.00" y2="1358.90"/>
<line x1="509.00" y1="1480.00" x2="608.00" y2="1381.00"/>
<line x1="509.00" y1="1502.10" x2="608.00" y2="1403.10"/>
<line x1="509.00" y1="1524.20" x2="608.00" y2="1425.20"/>
<line x1="509.00" y1="1546.30" x2="608.00" y2="1447.30"/>
<line x1="509.00" y1="1568.40" x2="608.00" y2="1469.40"/>
</g>
<rect x="515.50" y="1273.50" width="86.00" height="196.00" fill="none" stroke="#000" stroke-width="3.0"/>
<line x1="272.50" y1="1286.25" x2="272.50" y2="1322.75" stroke="#000" stroke-width="3.0" stroke-linecap="butt"/>
<line x1="266.00" y1="1286.25" x2="279.00" y2="1286.25" stroke="#000" stroke-width="3.0" stroke-linecap="butt"/>
<line x1="415.00" y1="1157.50" x2="415.00" y2="1202.25" stroke="#000" stroke-width="3.0" stroke-linecap="butt"/>
<line x1="408.50" y1="1157.50" x2="421.50" y2="1157.50" stroke="#000" stroke-width="3.0" stroke-linecap="butt"/>
<line x1="558.50" y1="1228.25" x2="558.50" y2="1273.00" stroke="#000" stroke-width="3.0" stroke-linecap="butt"/>
<line x1="552.00" y1="1228.25" x2="565.00" y2="1228.25" stroke="#000" stroke-width="3.0" stroke-linecap="butt"/>
<line x1="274.20" y1="1460.50" x2="274.20" y2="1469.50" stroke="#000" stroke-width="3.0" stroke-linecap="butt"/>
<line x1="415.00" y1="1460.50" x2="415.00" y2="1469.50" stroke="#000" stroke-width="3.0" stroke-linecap="butt"/>
<line x1="558.75" y1="1460.50" x2="558.75" y2="1469.50" stroke="#000" stroke-width="3.0" stroke-linecap="butt"/>
<line x1="264.90" y1="1270.50" x2="264.90" y2="1138.90" stroke="#000" stroke-width="3.0" stroke-linecap="butt"/>
<line x1="263.40" y1="1140.40" x2="307.50" y2="1140.40" stroke="#000" stroke-width="3.0" stroke-linecap="butt"/>
<polygon points="338.00,1141.20 346.60,1142.20 346.60,1138.60 338.00,1139.60" fill="#000"/>
<polygon points="337.31,1140.80 340.74,1148.75 343.86,1146.95 338.69,1140.00" fill="#000"/>
<polygon points="337.31,1140.00 332.14,1146.95 335.26,1148.75 338.69,1140.80" fill="#000"/>
<polygon points="338.00,1139.60 329.40,1138.60 329.40,1142.20 338.00,1141.20" fill="#000"/>
<polygon points="338.69,1140.00 335.26,1132.05 332.14,1133.85 337.31,1140.80" fill="#000"/>
<polygon points="338.69,1140.80 343.86,1133.85 340.74,1132.05 337.31,1140.00" fill="#000"/>
<line x1="363.00" y1="1140.40" x2="408.75" y2="1140.40" stroke="#000" stroke-width="3.0" stroke-linecap="butt"/>
<text transform="translate(273.75,1510.20) scale(1.06,1)" font-size="32.5" text-anchor="middle" >0 g</text>
<text transform="translate(415.00,1510.20) scale(1.06,1)" font-size="32.5" text-anchor="middle" >25 g</text>
<text transform="translate(554.20,1510.20) scale(1.06,1)" font-size="32.5" text-anchor="middle" >60 g</text>
<text transform="translate(746.20,1079.50) scale(1.1,1)" font-size="33"><tspan dy="-2.2" font-size="30.5">(</tspan><tspan dy="2.2">f</tspan><tspan dy="-2.2" font-size="30.5">)</tspan></text>
<text transform="translate(774.40,1292.50) rotate(-90)" font-size="34" text-anchor="middle" textLength="128" lengthAdjust="spacingAndGlyphs">Time <tspan dy="-2.2" font-size="32">(</tspan><tspan dy="2.2">s</tspan><tspan dy="-2.2" font-size="32">)</tspan></text>
<line x1="871.10" y1="1112.25" x2="871.10" y2="1471.00" stroke="#000" stroke-width="3.0" stroke-linecap="butt"/>
<line x1="869.60" y1="1469.50" x2="1443.00" y2="1469.50" stroke="#000" stroke-width="3.1" stroke-linecap="butt"/>
<line x1="871.10" y1="1113.75" x2="880.40" y2="1113.75" stroke="#000" stroke-width="3.0" stroke-linecap="butt"/>
<text transform="translate(857.90,1124.25) scale(1.05,1)" font-size="32.3" text-anchor="end" >46</text>
<line x1="871.10" y1="1158.22" x2="880.40" y2="1158.22" stroke="#000" stroke-width="3.0" stroke-linecap="butt"/>
<text transform="translate(857.90,1168.72) scale(1.05,1)" font-size="32.3" text-anchor="end" >44</text>
<line x1="871.10" y1="1202.69" x2="880.40" y2="1202.69" stroke="#000" stroke-width="3.0" stroke-linecap="butt"/>
<text transform="translate(857.90,1213.19) scale(1.05,1)" font-size="32.3" text-anchor="end" >42</text>
<line x1="871.10" y1="1247.16" x2="880.40" y2="1247.16" stroke="#000" stroke-width="3.0" stroke-linecap="butt"/>
<text transform="translate(857.90,1257.66) scale(1.05,1)" font-size="32.3" text-anchor="end" >40</text>
<line x1="871.10" y1="1291.62" x2="880.40" y2="1291.62" stroke="#000" stroke-width="3.0" stroke-linecap="butt"/>
<text transform="translate(857.90,1302.12) scale(1.05,1)" font-size="32.3" text-anchor="end" >38</text>
<line x1="871.10" y1="1336.09" x2="880.40" y2="1336.09" stroke="#000" stroke-width="3.0" stroke-linecap="butt"/>
<text transform="translate(857.90,1346.59) scale(1.05,1)" font-size="32.3" text-anchor="end" >36</text>
<line x1="871.10" y1="1380.56" x2="880.40" y2="1380.56" stroke="#000" stroke-width="3.0" stroke-linecap="butt"/>
<text transform="translate(857.90,1391.06) scale(1.05,1)" font-size="32.3" text-anchor="end" >34</text>
<line x1="871.10" y1="1425.03" x2="880.40" y2="1425.03" stroke="#000" stroke-width="3.0" stroke-linecap="butt"/>
<text transform="translate(857.90,1435.53) scale(1.05,1)" font-size="32.3" text-anchor="end" >32</text>
<text transform="translate(857.90,1480.00) scale(1.05,1)" font-size="32.3" text-anchor="end" >30</text>
<rect x="970.50" y="1192.75" width="86.75" height="276.75" fill="#fff" stroke="#000" stroke-width="3.0"/>
<clipPath id="c7"><rect x="1113.00" y="1281.00" width="88.00" height="189.00"/></clipPath>
<rect x="1112.00" y="1280.00" width="90.00" height="191.00" fill="#fff"/>
<g clip-path="url(#c7)" stroke="#000" stroke-width="3.6">
<line x1="1107.00" y1="1272.07" x2="1207.00" y2="1172.07"/>
<line x1="1107.00" y1="1287.41" x2="1207.00" y2="1187.41"/>
<line x1="1107.00" y1="1302.75" x2="1207.00" y2="1202.75"/>
<line x1="1107.00" y1="1318.09" x2="1207.00" y2="1218.09"/>
<line x1="1107.00" y1="1333.43" x2="1207.00" y2="1233.43"/>
<line x1="1107.00" y1="1348.77" x2="1207.00" y2="1248.77"/>
<line x1="1107.00" y1="1364.11" x2="1207.00" y2="1264.11"/>
<line x1="1107.00" y1="1379.45" x2="1207.00" y2="1279.45"/>
<line x1="1107.00" y1="1394.79" x2="1207.00" y2="1294.79"/>
<line x1="1107.00" y1="1410.13" x2="1207.00" y2="1310.13"/>
<line x1="1107.00" y1="1425.47" x2="1207.00" y2="1325.47"/>
<line x1="1107.00" y1="1440.81" x2="1207.00" y2="1340.81"/>
<line x1="1107.00" y1="1456.15" x2="1207.00" y2="1356.15"/>
<line x1="1107.00" y1="1471.49" x2="1207.00" y2="1371.49"/>
<line x1="1107.00" y1="1486.83" x2="1207.00" y2="1386.83"/>
<line x1="1107.00" y1="1502.17" x2="1207.00" y2="1402.17"/>
<line x1="1107.00" y1="1517.51" x2="1207.00" y2="1417.51"/>
<line x1="1107.00" y1="1532.85" x2="1207.00" y2="1432.85"/>
<line x1="1107.00" y1="1548.19" x2="1207.00" y2="1448.19"/>
<line x1="1107.00" y1="1563.53" x2="1207.00" y2="1463.53"/>
<line x1="1107.00" y1="1578.87" x2="1207.00" y2="1478.87"/>
</g>
<rect x="1113.50" y="1281.50" width="87.00" height="188.00" fill="none" stroke="#000" stroke-width="3.0"/>
<clipPath id="c8"><rect x="1256.00" y="1306.30" width="88.00" height="163.70"/></clipPath>
<rect x="1255.00" y="1305.30" width="90.00" height="165.70" fill="#fff"/>
<g clip-path="url(#c8)" stroke="#000" stroke-width="4.2">
<line x1="1250.00" y1="1309.40" x2="1350.00" y2="1209.40"/>
<line x1="1250.00" y1="1331.50" x2="1350.00" y2="1231.50"/>
<line x1="1250.00" y1="1353.60" x2="1350.00" y2="1253.60"/>
<line x1="1250.00" y1="1375.70" x2="1350.00" y2="1275.70"/>
<line x1="1250.00" y1="1397.80" x2="1350.00" y2="1297.80"/>
<line x1="1250.00" y1="1419.90" x2="1350.00" y2="1319.90"/>
<line x1="1250.00" y1="1442.00" x2="1350.00" y2="1342.00"/>
<line x1="1250.00" y1="1464.10" x2="1350.00" y2="1364.10"/>
<line x1="1250.00" y1="1486.20" x2="1350.00" y2="1386.20"/>
<line x1="1250.00" y1="1508.30" x2="1350.00" y2="1408.30"/>
<line x1="1250.00" y1="1530.40" x2="1350.00" y2="1430.40"/>
<line x1="1250.00" y1="1552.50" x2="1350.00" y2="1452.50"/>
<line x1="1250.00" y1="1574.60" x2="1350.00" y2="1474.60"/>
</g>
<rect x="1256.50" y="1306.80" width="87.00" height="162.70" fill="none" stroke="#000" stroke-width="3.0"/>
<line x1="1014.50" y1="1158.00" x2="1014.50" y2="1192.25" stroke="#000" stroke-width="3.0" stroke-linecap="butt"/>
<line x1="1008.00" y1="1158.00" x2="1021.00" y2="1158.00" stroke="#000" stroke-width="3.0" stroke-linecap="butt"/>
<line x1="1156.25" y1="1257.50" x2="1156.25" y2="1281.00" stroke="#000" stroke-width="3.0" stroke-linecap="butt"/>
<line x1="1149.75" y1="1257.50" x2="1162.75" y2="1257.50" stroke="#000" stroke-width="3.0" stroke-linecap="butt"/>
<line x1="1300.40" y1="1279.50" x2="1300.40" y2="1306.30" stroke="#000" stroke-width="3.0" stroke-linecap="butt"/>
<line x1="1293.90" y1="1279.50" x2="1306.90" y2="1279.50" stroke="#000" stroke-width="3.0" stroke-linecap="butt"/>
<line x1="1015.50" y1="1460.50" x2="1015.50" y2="1469.50" stroke="#000" stroke-width="3.0" stroke-linecap="butt"/>
<line x1="1156.25" y1="1460.50" x2="1156.25" y2="1469.50" stroke="#000" stroke-width="3.0" stroke-linecap="butt"/>
<line x1="1300.00" y1="1460.50" x2="1300.00" y2="1469.50" stroke="#000" stroke-width="3.0" stroke-linecap="butt"/>
<line x1="1020.00" y1="1131.60" x2="1163.00" y2="1131.60" stroke="#000" stroke-width="3.0" stroke-linecap="butt"/>
<polygon points="1192.00,1129.80 1200.60,1130.80 1200.60,1127.20 1192.00,1128.20" fill="#000"/>
<polygon points="1191.31,1129.40 1194.74,1137.35 1197.86,1135.55 1192.69,1128.60" fill="#000"/>
<polygon points="1191.31,1128.60 1186.14,1135.55 1189.26,1137.35 1192.69,1129.40" fill="#000"/>
<polygon points="1192.00,1128.20 1183.40,1127.20 1183.40,1130.80 1192.00,1129.80" fill="#000"/>
<polygon points="1192.69,1128.60 1189.26,1120.65 1186.14,1122.45 1191.31,1129.40" fill="#000"/>
<polygon points="1192.69,1129.40 1197.86,1122.45 1194.74,1120.65 1191.31,1128.60" fill="#000"/>
<polygon points="1215.50,1129.80 1224.10,1130.80 1224.10,1127.20 1215.50,1128.20" fill="#000"/>
<polygon points="1214.81,1129.40 1218.24,1137.35 1221.36,1135.55 1216.19,1128.60" fill="#000"/>
<polygon points="1214.81,1128.60 1209.64,1135.55 1212.76,1137.35 1216.19,1129.40" fill="#000"/>
<polygon points="1215.50,1128.20 1206.90,1127.20 1206.90,1130.80 1215.50,1129.80" fill="#000"/>
<polygon points="1216.19,1128.60 1212.76,1120.65 1209.64,1122.45 1214.81,1129.40" fill="#000"/>
<polygon points="1216.19,1129.40 1221.36,1122.45 1218.24,1120.65 1214.81,1128.60" fill="#000"/>
<line x1="1246.25" y1="1131.60" x2="1293.25" y2="1131.60" stroke="#000" stroke-width="3.0" stroke-linecap="butt"/>
<line x1="1291.75" y1="1130.10" x2="1291.75" y2="1262.00" stroke="#000" stroke-width="3.0" stroke-linecap="butt"/>
<line x1="1033.00" y1="1161.40" x2="1063.00" y2="1161.40" stroke="#000" stroke-width="3.0" stroke-linecap="butt"/>
<polygon points="1093.50,1162.70 1102.10,1163.70 1102.10,1160.10 1093.50,1161.10" fill="#000"/>
<polygon points="1092.81,1162.30 1096.24,1170.25 1099.36,1168.45 1094.19,1161.50" fill="#000"/>
<polygon points="1092.81,1161.50 1087.64,1168.45 1090.76,1170.25 1094.19,1162.30" fill="#000"/>
<polygon points="1093.50,1161.10 1084.90,1160.10 1084.90,1163.70 1093.50,1162.70" fill="#000"/>
<polygon points="1094.19,1161.50 1090.76,1153.55 1087.64,1155.35 1092.81,1162.30" fill="#000"/>
<polygon points="1094.19,1162.30 1099.36,1155.35 1096.24,1153.55 1092.81,1161.50" fill="#000"/>
<line x1="1120.00" y1="1161.40" x2="1148.75" y2="1161.40" stroke="#000" stroke-width="3.0" stroke-linecap="butt"/>
<line x1="1147.25" y1="1159.90" x2="1147.25" y2="1219.50" stroke="#000" stroke-width="3.0" stroke-linecap="butt"/>
<text transform="translate(1016.00,1510.20) scale(1.06,1)" font-size="32.5" text-anchor="middle" >0 g</text>
<text transform="translate(1157.75,1510.20) scale(1.06,1)" font-size="32.5" text-anchor="middle" >25 g</text>
<text transform="translate(1300.00,1510.20) scale(1.06,1)" font-size="32.5" text-anchor="middle" >60 g</text>
</svg>
</body></html>
